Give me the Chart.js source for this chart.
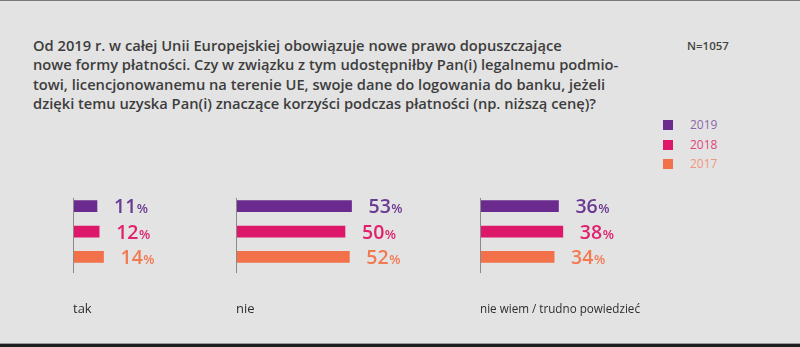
<!DOCTYPE html>
<html>
<head>
<meta charset="utf-8">
<script src="https://cdn.jsdelivr.net/npm/chart.js@4.4.0/dist/chart.umd.min.js"></script>
<style>
  body { margin: 0; width: 800px; height: 347px; background: #e3e3e3; font-family: 'Open Sans', sans-serif; position: relative; overflow: hidden; }
  #topline { position: absolute; left: 0; top: 0; width: 800px; height: 1px; background: #7a7a7a; }
  #bottom { position: absolute; left: 0; top: 343px; width: 800px; height: 4px; background: #1e1e1e; border-top: 1px solid #9a9a9a; }
  #title { position: absolute; left: 33px; top: 36px; font-size: 14.7px; font-weight: 600; line-height: 19.3px; color: #3d3d3d; white-space: nowrap; }
  #n { position: absolute; left: 687px; top: 38px; font-size: 11.5px; font-weight: 600; color: #444; }
  .leg { position: absolute; left: 663px; font-size: 12px; }
  .leg span { display: inline-block; width: 10px; height: 10px; margin-right: 17px; vertical-align: -1px; }
  canvas { position: absolute; top: 185px; }
</style>
</head>
<body>
<div id="topline"></div>
<div id="title">Od 2019 r. w całej Unii Europejskiej obowiązuje nowe prawo dopuszczające<br>nowe formy płatności. Czy w związku z tym udostępniłby Pan(i) legalnemu podmio-<br>towi, licencjonowanemu na terenie UE, swoje dane do logowania do banku, jeżeli<br>dzięki temu uzyska Pan(i) znaczące korzyści podczas płatności (np. niższą cenę)?</div>
<div id="n">N=1057</div>
<div id="legend"></div>
<canvas id="c0" width="200" height="140" style="left:73px"></canvas>
<canvas id="c1" width="200" height="140" style="left:236px"></canvas>
<canvas id="c2" width="200" height="140" style="left:480px"></canvas>
<div id="bottom"></div>
<script>
const categories = ['tak', 'nie', 'nie wiem / trudno powiedzieć'];
const years = ['2019', '2018', '2017'];
const values2019 = [11, 53, 36];
const values2018 = [12, 50, 38];
const values2017 = [14, 52, 34];
const barColors = ['#6a2a8e', '#dd186b', '#f2704a'];
const labelColors = ['#6b3a92', '#e0226e', '#f27a52'];
const legendColors = ['#8a68a8', '#e2457c', '#f1947a'];

Chart.defaults.font.family = "'Open Sans', sans-serif";

// legend (html)
const legendDiv = document.getElementById('legend');
years.forEach((y, i) => {
    const d = document.createElement('div');
    d.className = 'leg';
    d.style.top = (116 + i * 19.5) + 'px';
    d.style.color = legendColors[i];
    d.innerHTML = '<span style="background:' + barColors[i] + '"></span>' + y;
    legendDiv.appendChild(d);
});

const axisLine = {
    id: 'axisLine',
    afterDatasetsDraw(chart) {
        const ctx = chart.ctx;
        const a = chart.chartArea;
        ctx.save();
        ctx.strokeStyle = '#8a8a8a';
        ctx.lineWidth = 1;
        ctx.beginPath();
        ctx.moveTo(a.left + 0.5, a.top + 4.5);
        ctx.lineTo(a.left + 0.5, a.bottom + 3.5);
        ctx.stroke();
        ctx.restore();
    }
};

const valueLabels = {
    id: 'valueLabels',
    afterDatasetsDraw(chart) {
        const ctx = chart.ctx;
        const ds = chart.data.datasets[0];
        chart.getDatasetMeta(0).data.forEach((bar, i) => {
            const txt = String(ds.data[i]);
            const x = bar.x + 17;
            const y = bar.y + 7;
            ctx.save();
            ctx.fillStyle = labelColors[i];
            ctx.textBaseline = 'alphabetic';
            ctx.textAlign = 'left';
            ctx.font = "600 19.5px 'Open Sans'";
            ctx.fillText(txt, x, y);
            const w = ctx.measureText(txt).width;
            ctx.font = "600 13px 'Open Sans'";
            ctx.fillText('%', x + w + 0.5, y);
            ctx.restore();
        });
    }
};

function makePanel(idx) {
    const data = [values2019[idx], values2018[idx], values2017[idx]];
    new Chart(document.getElementById('c' + idx), {
        type: 'bar',
        data: {
            labels: years,
            datasets: [{ data: data, backgroundColor: barColors, barThickness: 11 }]
        },
        options: {
            indexAxis: 'y',
            responsive: false,
            animation: false,
            layout: { padding: { top: 8.5, right: 40, left: 0, bottom: 0 } },
            plugins: { legend: { display: false }, tooltip: { enabled: false } },
            scales: {
                x: {
                    min: 0, max: 73.4,
                    grid: { display: false },
                    border: { display: false },
                    ticks: { display: false },
                    title: {
                        display: true, text: categories[idx], align: 'start',
                        color: '#2e2e2e', font: { size: 13 },
                        padding: { top: 24, bottom: 7.8 }
                    }
                },
                y: { display: false }
            }
        },
        plugins: [axisLine, valueLabels]
    });
}

makePanel(0);
makePanel(1);
makePanel(2);
</script>
</body>
</html>
